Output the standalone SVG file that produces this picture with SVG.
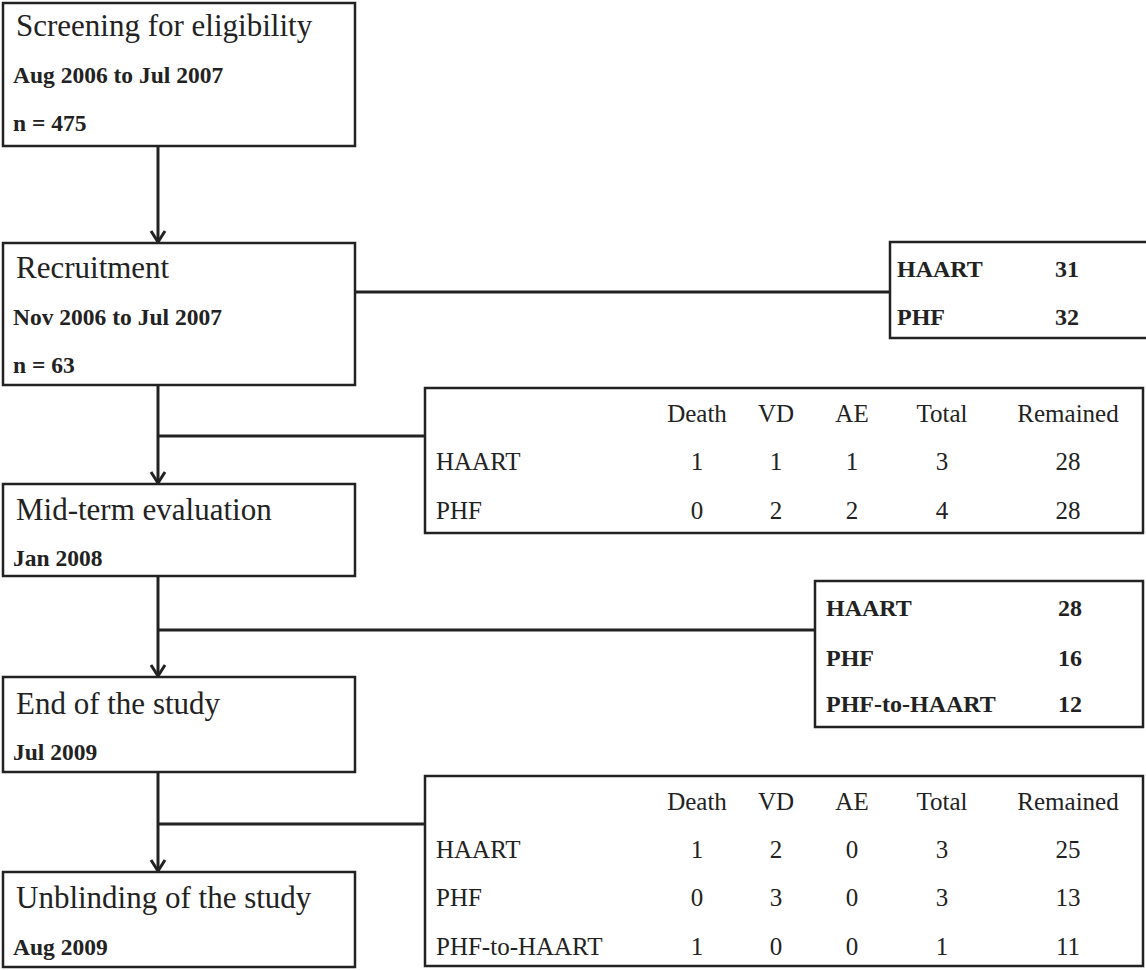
<svg xmlns="http://www.w3.org/2000/svg" width="1146" height="970" viewBox="0 0 1146 970">
<defs>
<style>
.box{fill:#fff;stroke:#222;stroke-width:2.5}
.conn{fill:none;stroke:#222;stroke-width:3}
.t{font-family:"Liberation Serif","Times New Roman",serif;font-size:31px;fill:#222}
.s{font-family:"Liberation Serif","Times New Roman",serif;font-size:23.5px;font-weight:bold;fill:#222}
.r{font-family:"Liberation Serif","Times New Roman",serif;font-size:24px;font-weight:bold;fill:#222}
.c{font-family:"Liberation Serif","Times New Roman",serif;font-size:25px;fill:#222}
.m{text-anchor:middle}
</style>
<marker id="arr" markerWidth="20" markerHeight="20" viewBox="0 0 20 20" refX="10" refY="18" markerUnits="userSpaceOnUse">
<path d="M3,7 L10,18 L17,7" fill="none" stroke="#222" stroke-width="3"/>
</marker>
</defs>
<rect width="1146" height="970" fill="#fff"/>
<g id="connectors">
<line class="conn" x1="158" y1="146" x2="158" y2="242" marker-end="url(#arr)"/>
<line class="conn" x1="355" y1="292" x2="890" y2="292"/>
<line class="conn" x1="158" y1="385" x2="158" y2="483" marker-end="url(#arr)"/>
<line class="conn" x1="158" y1="436" x2="425" y2="436"/>
<line class="conn" x1="158" y1="576" x2="158" y2="676" marker-end="url(#arr)"/>
<line class="conn" x1="158" y1="630" x2="815" y2="630"/>
<line class="conn" x1="158" y1="772" x2="158" y2="871" marker-end="url(#arr)"/>
<line class="conn" x1="158" y1="824" x2="425" y2="824"/>
</g>
<g id="screening">
<rect class="box" x="3" y="3" width="352" height="143"/>
<text class="t" x="16" y="36">Screening for eligibility</text>
<text class="s" x="13" y="83">Aug 2006 to Jul 2007</text>
<text class="s" x="13" y="131">n = 475</text>
</g>
<g id="recruitment">
<rect class="box" x="3" y="243" width="352" height="142"/>
<text class="t" x="16" y="278">Recruitment</text>
<text class="s" x="13" y="325">Nov 2006 to Jul 2007</text>
<text class="s" x="13" y="373">n = 63</text>
</g>
<g id="randomised">
<rect class="box" x="890" y="242" width="260" height="96"/>
<text class="r" x="897" y="277">HAART</text>
<text class="r" x="1055" y="277">31</text>
<text class="r" x="897" y="325">PHF</text>
<text class="r" x="1055" y="325">32</text>
</g>
<g id="withdrawal1">
<rect class="box" x="425" y="388" width="718" height="145"/>
<text class="c m" x="697" y="422">Death</text>
<text class="c m" x="776" y="422">VD</text>
<text class="c m" x="852" y="422">AE</text>
<text class="c m" x="942" y="422">Total</text>
<text class="c m" x="1068" y="422">Remained</text>
<text class="c" x="436" y="470">HAART</text>
<text class="c m" x="697" y="470">1</text>
<text class="c m" x="776" y="470">1</text>
<text class="c m" x="852" y="470">1</text>
<text class="c m" x="942" y="470">3</text>
<text class="c m" x="1068" y="470">28</text>
<text class="c" x="436" y="519">PHF</text>
<text class="c m" x="697" y="519">0</text>
<text class="c m" x="776" y="519">2</text>
<text class="c m" x="852" y="519">2</text>
<text class="c m" x="942" y="519">4</text>
<text class="c m" x="1068" y="519">28</text>
</g>
<g id="midterm">
<rect class="box" x="3" y="484" width="352" height="92"/>
<text class="t" x="16" y="520">Mid-term evaluation</text>
<text class="s" x="13" y="566">Jan 2008</text>
</g>
<g id="switch">
<rect class="box" x="815" y="581" width="328" height="146"/>
<text class="r" x="826" y="616">HAART</text>
<text class="r" x="1058" y="616">28</text>
<text class="r" x="826" y="666">PHF</text>
<text class="r" x="1058" y="666">16</text>
<text class="r" x="826" y="712">PHF-to-HAART</text>
<text class="r" x="1058" y="712">12</text>
</g>
<g id="end">
<rect class="box" x="3" y="677" width="352" height="95"/>
<text class="t" x="16" y="714">End of the study</text>
<text class="s" x="13" y="760">Jul 2009</text>
</g>
<g id="withdrawal2">
<rect class="box" x="425" y="776" width="718" height="190"/>
<text class="c m" x="697" y="810">Death</text>
<text class="c m" x="776" y="810">VD</text>
<text class="c m" x="852" y="810">AE</text>
<text class="c m" x="942" y="810">Total</text>
<text class="c m" x="1068" y="810">Remained</text>
<text class="c" x="436" y="858">HAART</text>
<text class="c m" x="697" y="858">1</text>
<text class="c m" x="776" y="858">2</text>
<text class="c m" x="852" y="858">0</text>
<text class="c m" x="942" y="858">3</text>
<text class="c m" x="1068" y="858">25</text>
<text class="c" x="436" y="906">PHF</text>
<text class="c m" x="697" y="906">0</text>
<text class="c m" x="776" y="906">3</text>
<text class="c m" x="852" y="906">0</text>
<text class="c m" x="942" y="906">3</text>
<text class="c m" x="1068" y="906">13</text>
<text class="c" x="436" y="955">PHF-to-HAART</text>
<text class="c m" x="697" y="955">1</text>
<text class="c m" x="776" y="955">0</text>
<text class="c m" x="852" y="955">0</text>
<text class="c m" x="942" y="955">1</text>
<text class="c m" x="1068" y="955">11</text>
</g>
<g id="unblinding">
<rect class="box" x="3" y="872" width="352" height="95"/>
<text class="t" x="16" y="908">Unblinding of the study</text>
<text class="s" x="13" y="955">Aug 2009</text>
</g>
</svg>
